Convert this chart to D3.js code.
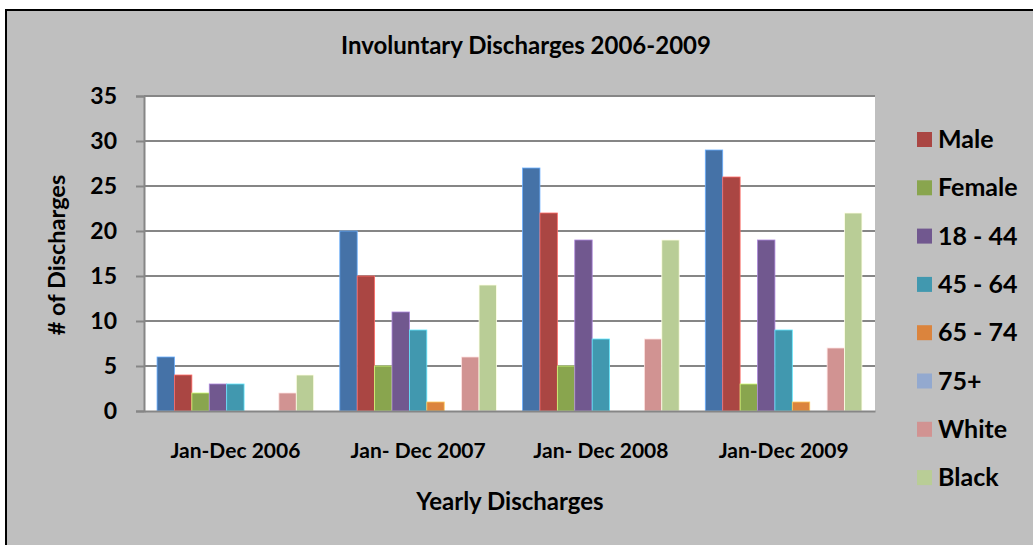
<!DOCTYPE html>
<html>
<head>
<meta charset="utf-8">
<script src="https://cdn.jsdelivr.net/npm/d3@7"></script>
<style>
  html, body { margin: 0; padding: 0; background: #ffffff; }
  svg text { font-family: Lato, "Open Sans", sans-serif; font-weight: bold; fill: #000; }
</style>
</head>
<body>
<svg id="chart" width="1033" height="545"></svg>
<script>
// Yearly periods on the category axis
const periods = ["Jan-Dec 2006", "Jan- Dec 2007", "Jan- Dec 2008", "Jan-Dec 2009"];

// One array per series, one value per period
const total     = [6, 20, 27, 29];
const male      = [4, 15, 22, 26];
const female    = [2, 5, 5, 3];
const age18_44  = [3, 11, 19, 19];
const age45_64  = [3, 9, 8, 9];
const age65_74  = [0, 1, 0, 1];
const age75plus = [0, 0, 0, 0];
const white     = [2, 6, 8, 7];
const black     = [4, 14, 19, 22];

const yTicks = [0, 5, 10, 15, 20, 25, 30, 35];

const series = [
  { name: "Total",   values: total,     color: "#4572A7", legend: false },
  { name: "Male",    values: male,      color: "#AA4643", legend: true },
  { name: "Female",  values: female,    color: "#89A54E", legend: true },
  { name: "18 - 44", values: age18_44,  color: "#71588F", legend: true },
  { name: "45 - 64", values: age45_64,  color: "#4198AF", legend: true },
  { name: "65 - 74", values: age65_74,  color: "#DB843D", legend: true },
  { name: "75+",     values: age75plus, color: "#93A9CF", legend: true },
  { name: "White",   values: white,     color: "#D19392", legend: true },
  { name: "Black",   values: black,     color: "#B9CD96", legend: true }
];

const svg = d3.select("#chart");

// Chart area background and frame
svg.append("rect").attr("x", 6).attr("y", 10).attr("width", 1040).attr("height", 560)
  .attr("fill", "#BFBFBF").attr("stroke", "#000").attr("stroke-width", 2);

const plot = { left: 144, right: 875, top: 96, bottom: 411 };

svg.append("rect")
  .attr("x", plot.left).attr("y", plot.top)
  .attr("width", plot.right - plot.left).attr("height", plot.bottom - plot.top)
  .attr("fill", "#ffffff");

const x0 = d3.scaleBand().domain(periods).range([plot.left, plot.right]).paddingInner(0).paddingOuter(0);
// gap of 1.5 bar widths between groups
const x1 = d3.scaleBand().domain(series.map(s => s.name))
  .range([0, x0.bandwidth()]).paddingInner(0).paddingOuter(0.75);
const y = d3.scaleLinear().domain([0, 35]).range([plot.bottom, plot.top]);

// Gridlines
svg.append("g").selectAll("line").data(yTicks.filter(t => t > 0)).join("line")
  .attr("x1", plot.left).attr("x2", plot.right)
  .attr("y1", d => y(d)).attr("y2", d => y(d))
  .attr("stroke", "#868686").attr("stroke-width", 2);

// Bars
const groups = svg.append("g").selectAll("g").data(periods).join("g")
  .attr("transform", d => `translate(${x0(d)},0)`);

groups.selectAll("rect")
  .data((p, i) => series.filter(s => s.values[i] > 0).map(s => ({ s, v: s.values[i] })))
  .join("rect")
  .attr("x", d => x1(d.s.name))
  .attr("width", x1.bandwidth())
  .attr("y", d => y(d.v))
  .attr("height", d => y(0) - y(d.v))
  .attr("fill", d => d.s.color)
  .attr("stroke", d => d3.color(d.s.color).brighter(1.2))
  .attr("stroke-width", 0.8);

// Y axis
const yAxis = d3.axisLeft(y).tickValues(yTicks).tickSize(8).tickPadding(19);
const gy = svg.append("g").attr("transform", `translate(${plot.left},0)`).call(yAxis);
gy.select(".domain").attr("stroke", "#868686").attr("stroke-width", 2);
gy.selectAll(".tick line").attr("stroke", "#868686").attr("stroke-width", 2);
gy.selectAll(".tick text").style("font-size", "23px").style("font-family", "Lato").style("font-weight", "bold").attr("fill", "#000");

// X axis
const xAxis = d3.axisBottom(x0).tickSize(0);
const gx = svg.append("g").attr("transform", `translate(0,${plot.bottom})`).call(xAxis);
gx.select(".domain").attr("stroke", "#868686").attr("stroke-width", 2);
gx.selectAll(".tick text").attr("y", 47).attr("dy", 0)
  .style("font-size", "21px").style("font-family", "Lato").style("font-weight", "bold").attr("fill", "#000");

// Titles
svg.append("text").attr("x", 526).attr("y", 54).attr("text-anchor", "middle")
  .style("font-size", "24px").text("Involuntary Discharges 2006-2009");
svg.append("text").attr("x", 510).attr("y", 510).attr("text-anchor", "middle")
  .style("font-size", "24px").text("Yearly Discharges");
svg.append("text").attr("transform", "translate(65,255) rotate(-90)").attr("text-anchor", "middle")
  .style("font-size", "23.5px").text("# of Discharges");

// Legend
const legendItems = series.filter(s => s.legend);
const lg = svg.append("g").selectAll("g").data(legendItems).join("g")
  .attr("transform", (d, i) => `translate(917,${139 + i * 48.3})`);
lg.append("rect").attr("x", 0).attr("y", -7).attr("width", 15).attr("height", 15)
  .attr("fill", d => d.color);
lg.append("text").attr("x", 21).attr("y", 0).attr("dy", "0.36em")
  .style("font-size", "25px").text(d => d.name);
</script>
</body>
</html>
